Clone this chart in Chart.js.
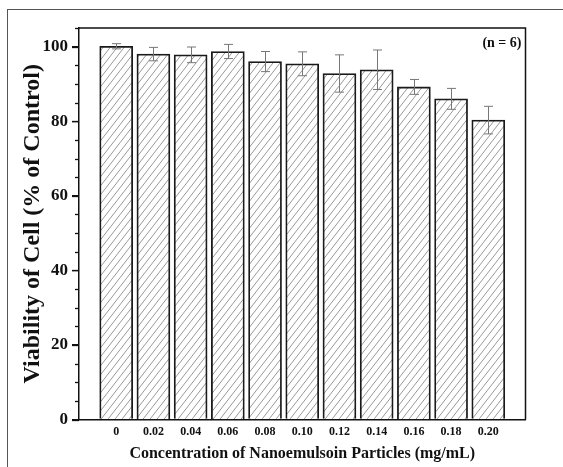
<!DOCTYPE html>
<html>
<head>
<meta charset="utf-8">
<script src="https://cdn.jsdelivr.net/npm/chart.js@4.4.1/dist/chart.umd.min.js"></script>
<style>
  html, body { margin: 0; padding: 0; background: #fff; }
  .frame {
    position: absolute; left: 7px; top: 9px; width: 620px; height: 470px;
    border: 1.5px solid #555;
  }
  .wrap { position: absolute; left: 0; top: 0; width: 563px; height: 467px; }
</style>
</head>
<body>
<div class="frame"></div>
<div class="wrap"><canvas id="myChart"></canvas></div>
<script>
const concentrations = [0, 0.02, 0.04, 0.06, 0.08, 0.10, 0.12, 0.14, 0.16, 0.18, 0.20];
const viability = [100.1, 98.0, 97.8, 98.7, 96.0, 95.4, 92.8, 93.8, 89.2, 86.0, 80.3];
const errors = [0.7, 1.8, 2.1, 1.9, 2.7, 3.2, 5.0, 5.3, 2.0, 2.8, 3.7];
const yMajorTicks = [0, 20, 40, 60, 80, 100];
const yMinorStep = 5;

const serif = "'Liberation Serif', 'Times New Roman', serif";

// -------- hatch pattern for the bars --------
function makeHatch() {
  const w = 7, h = 9;
  const c = document.createElement("canvas");
  c.width = w;
  c.height = h;
  const g = c.getContext("2d");
  g.fillStyle = "#fff";
  g.fillRect(0, 0, w, h);
  g.strokeStyle = "#8c8c8c";
  g.lineWidth = 0.9;
  for (let k = -1; k <= 1; k++) {
    g.beginPath();
    g.moveTo(k * w, h);
    g.lineTo(k * w + w, 0);
    g.stroke();
  }
  return g.createPattern(c, "repeat");
}

// -------- extras: frame, ticks, error bars, n label --------
const extras = {
  id: "extras",
  afterDatasetsDraw(chart) {
    const { ctx, scales } = chart;
    const x = scales.x, y = scales.y;
    ctx.save();
    ctx.strokeStyle = "#777";
    ctx.lineWidth = 1;
    concentrations.forEach((c, i) => {
      const px = Math.round(x.getPixelForValue(c)) + 0.5;
      const top = y.getPixelForValue(viability[i] + errors[i]);
      const bot = y.getPixelForValue(viability[i] - errors[i]);
      ctx.beginPath();
      ctx.moveTo(px, top);
      ctx.lineTo(px, bot);
      ctx.moveTo(px - 4.5, top);
      ctx.lineTo(px + 4.5, top);
      ctx.moveTo(px - 4.5, bot);
      ctx.lineTo(px + 4.5, bot);
      ctx.stroke();
    });
    ctx.restore();
  },
  afterDraw(chart) {
    const { ctx, chartArea: a, scales } = chart;
    const y = scales.y;
    ctx.save();
    ctx.strokeStyle = "#111";
    ctx.lineWidth = 1.5;
    ctx.beginPath();
    ctx.moveTo(a.left, a.top);
    ctx.lineTo(a.right, a.top);
    ctx.lineTo(a.right, a.bottom);
    ctx.stroke();

    ctx.lineWidth = 1.3;
    for (let v = 0; v <= y.max; v += yMinorStep) {
      const major = yMajorTicks.includes(v);
      const py = Math.round(y.getPixelForValue(v)) + 0.5;
      ctx.beginPath();
      ctx.moveTo(a.left - (major ? 7 : 4), py);
      ctx.lineTo(a.left, py);
      ctx.stroke();
    }

    ctx.fillStyle = "#111";
    ctx.font = "bold 14px " + serif;
    ctx.textAlign = "right";
    ctx.textBaseline = "middle";
    ctx.fillText("(n = 6)", a.right - 4, a.top + 15);
    ctx.restore();
  },
};

const ctx = document.getElementById("myChart");

new Chart(ctx, {
  type: "bar",
  data: {
    datasets: [
      {
        label: "Viability",
        data: concentrations.map((c, i) => ({ x: c, y: viability[i] })),
        backgroundColor: makeHatch(),
        borderColor: "#1a1a1a",
        borderWidth: 1.8,
        barThickness: 33,
      },
    ],
  },
  options: {
    responsive: true,
    maintainAspectRatio: false,
    animation: false,
    layout: { padding: { top: 28, right: 37.5, left: 0, bottom: 0 } },
    plugins: {
      legend: { display: false },
      tooltip: { enabled: false },
    },
    scales: {
      x: {
        type: "linear",
        offset: false,
        min: -0.02,
        max: 0.22,
        afterBuildTicks: (scale) => {
          scale.ticks = concentrations.map((v) => ({ value: v }));
        },
        afterFit: (scale) => {
          scale.height = 47.5;
        },
        ticks: {
          padding: 5,
          color: "#111",
          font: { family: serif, size: 12, weight: "bold" },
          callback: (v) => (v === 0 ? "0" : v.toFixed(2)),
        },
        grid: { offset: false, drawOnChartArea: false, drawTicks: false },
        border: { display: true, color: "#111", width: 1.5 },
        title: {
          display: true,
          text: "Concentration of Nanoemulsoin Particles (mg/mL)",
          color: "#111",
          font: { family: serif, size: 16, weight: "bold" },
          padding: { top: 0, bottom: 3.4 },
        },
      },
      y: {
        min: 0,
        max: 105,
        afterBuildTicks: (scale) => {
          scale.ticks = yMajorTicks.map((v) => ({ value: v }));
        },
        afterFit: (scale) => {
          scale.width = 79;
        },
        ticks: {
          padding: 4,
          color: "#111",
          font: { family: serif, size: 17, weight: "bold" },
        },
        grid: { drawOnChartArea: false, tickLength: 7, color: "#111", lineWidth: 1.3 },
        border: { display: true, color: "#111", width: 1.5 },
        title: {
          display: true,
          text: "Viability of Cell (% of Control)",
          color: "#111",
          font: { family: serif, size: 24, weight: "bold" },
          padding: { top: 18.6, bottom: 0 },
        },
      },
    },
  },
  plugins: [extras],
});
</script>
</body>
</html>
